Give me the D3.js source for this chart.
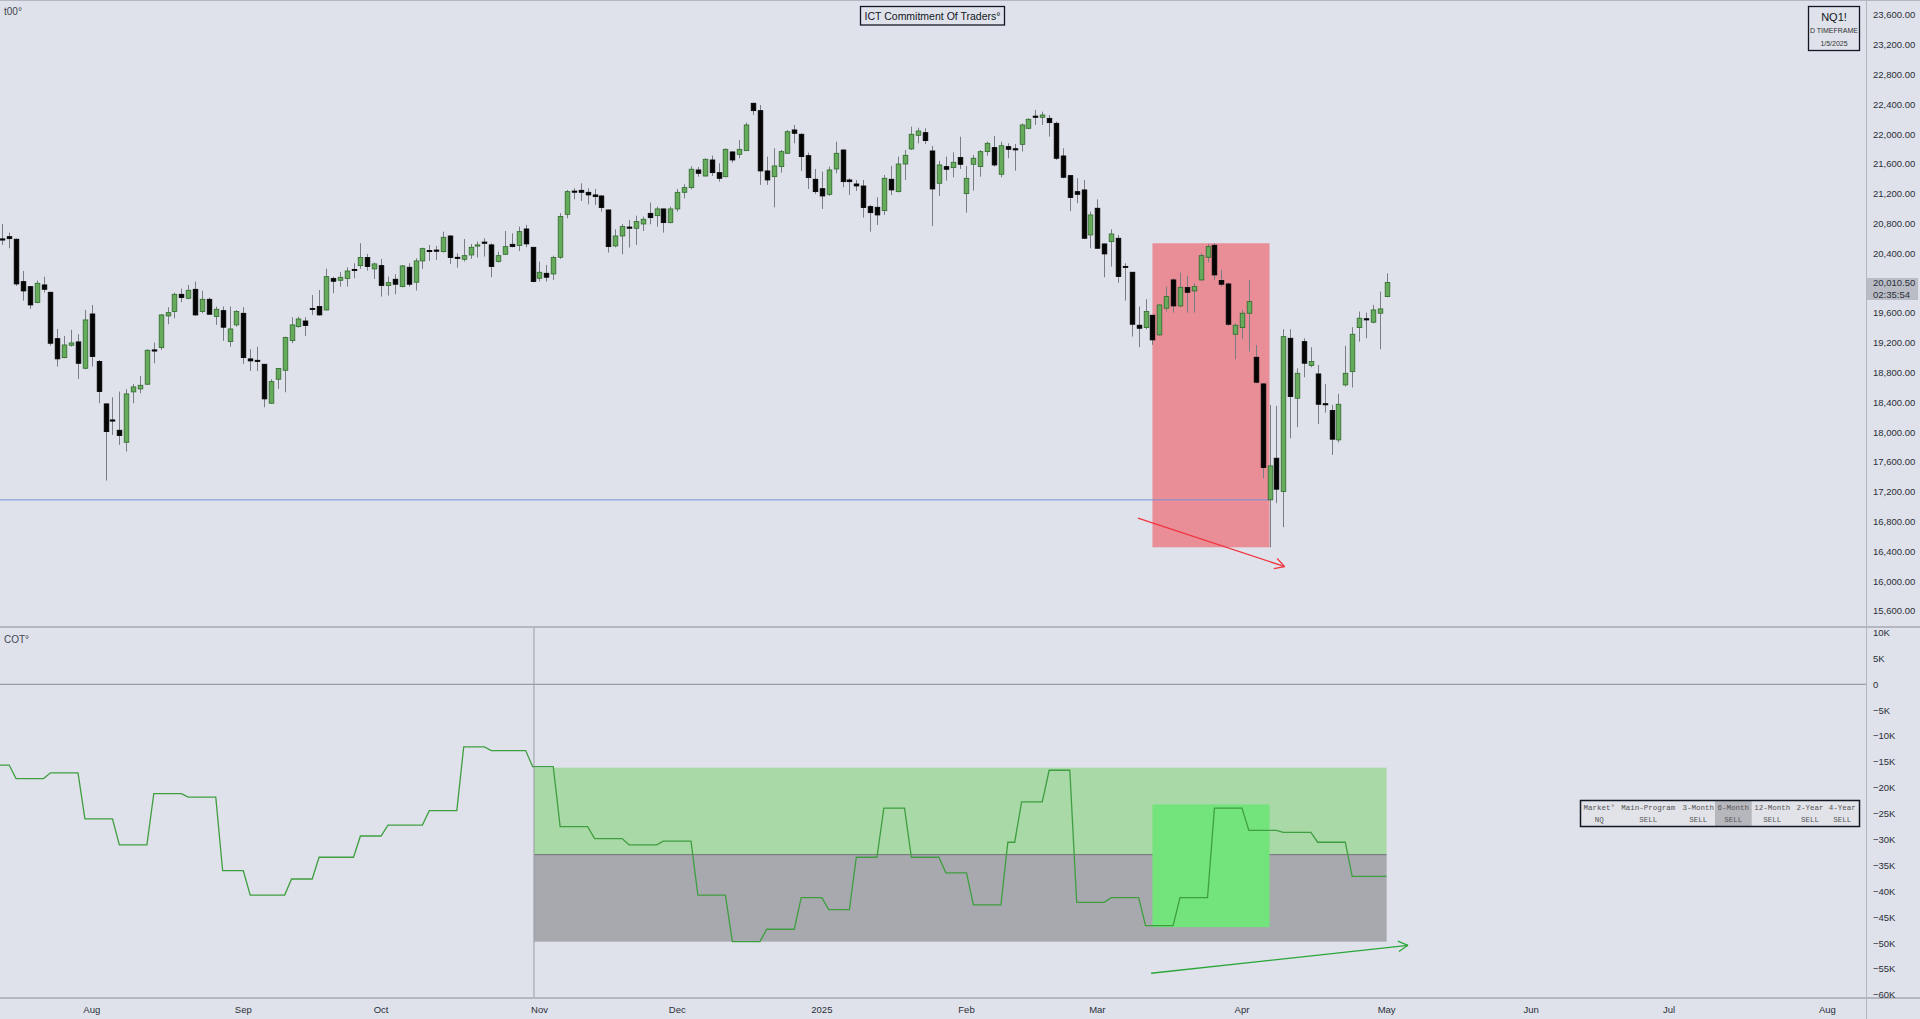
<!DOCTYPE html>
<html><head><meta charset="utf-8">
<script src="https://cdn.jsdelivr.net/npm/d3@7"></script>
<style>
html,body{margin:0;padding:0;background:#dfe2ea;overflow:hidden}
svg{display:block}
</style></head><body>
<svg id="c" width="1920" height="1019"></svg>
<script>
// ---------- DATA ----------
const opens=[20590,20625,20590,20021,19954,19740,19977,19878,19256,19001,
19167,19212,18858,19587,18948,18380,18161,18026,17865,18541,
18581,18644,19100,19136,19561,19619,19851,19798,19918,19619,
19784,19552,19632,19216,19440,19596,18984,18961,18912,18389,
18711,18831,19229,19417,19493,19659,19686,19641,20062,20039,
20062,20182,20236,20344,20192,20236,19968,20053,19954,20214,
20013,20299,20437,20442,20424,20634,20348,20321,20379,20500,
20549,20514,20290,20388,20522,20505,20728,20482,20066,20133,
20124,20348,20925,21234,21247,21220,21185,21171,20983,20500,
20634,20751,20737,20795,20938,20907,20997,20813,20997,21220,
21283,21520,21439,21654,21484,21430,21762,21730,21779,22415,
22316,21507,21430,21565,21744,22057,21999,21712,21395,21269,
21193,21533,21788,21386,21332,21305,21028,21019,20974,21395,
21229,21600,21802,21985,22021,21775,21341,21565,21551,21686,
21202,21596,21565,21766,21820,21462,21833,21802,21864,22079,
22240,22227,22213,22146,21708,21444,21229,21252,20648,21006,
20527,20558,20603,20223,20147,19436,19404,19570,19306,19664,
20044,19695,19941,19896,20044,20348,20509,20035,19990,19315,
19404,19597,19006,18648,17092,17651,17203,19261,18456,19216,
18894,18782,18380,18291,17897,18635,18813,19404,19520,19476,
19597,19820];
const highs=[20795,20679,20600,20164,19960,20035,20088,19885,19386,19292,
19373,19315,19641,19708,18970,18385,18469,18545,18576,18648,
18755,19113,19203,19587,19677,19874,19927,19977,20021,19900,
19807,19686,19686,19686,19641,19677,19113,19149,18915,18711,
18863,19283,19543,19552,19543,19842,19909,20196,20088,20151,
20213,20267,20536,20393,20277,20326,20089,20120,20245,20268,
20335,20478,20514,20500,20692,20640,20402,20594,20527,20558,
20603,20536,20424,20701,20670,20760,20782,20485,20290,20245,
20370,20939,21252,21274,21341,21274,21265,21185,20990,20724,
20795,20849,20907,20894,21082,21028,21000,21028,21265,21328,
21570,21560,21677,21712,21609,21811,21766,21923,22155,22424,
22392,21699,21811,21788,22057,22124,22012,21753,21533,21498,
21565,21900,21797,21408,21386,21386,21050,21153,21453,21574,
21699,21788,22101,22088,22079,21842,21641,21699,21757,21967,
21574,21721,21788,21900,21976,21900,21878,21869,22146,22213,
22325,22303,22258,22169,21811,21453,21408,21386,20961,21126,
20530,20724,20648,20268,20150,19686,19785,19575,19712,19954,
20066,20142,20102,19999,20402,20527,20536,20178,20008,19462,
19641,20044,19172,18657,18366,18353,19382,19382,18858,19261,
19140,18903,18648,18366,18514,19158,19409,19619,19605,19708,
19887,20133];
const lows=[20513,20469,19963,19766,19655,19731,19874,19162,18881,18993,
19149,18715,18845,18881,18389,17351,17964,17830,17740,18389,
18523,18635,18925,19104,19449,19529,19744,19784,19561,19596,
19574,19440,19225,19149,19417,18916,18822,18822,18335,18380,
18581,18536,19194,19404,19292,19574,19565,19632,19865,19954,
19954,20066,20192,20169,20057,19820,19834,19852,19945,19954,
19901,20192,20299,20312,20411,20259,20209,20290,20326,20344,
20357,20080,20277,20379,20482,20433,20482,20013,20022,20022,
20044,20326,20871,21126,21104,21059,21050,20961,20411,20482,
20388,20478,20514,20701,20791,20760,20679,20804,20961,21140,
21260,21430,21430,21439,21363,21421,21618,21677,21775,22258,
21319,21319,21019,21484,21735,21878,21507,21265,21198,20997,
21171,21475,21287,21184,21238,20880,20692,20782,20916,21184,
21220,21386,21788,21878,21869,20768,21171,21377,21422,21533,
20947,21243,21430,21712,21565,21422,21677,21511,21766,22066,
22124,22124,21967,21654,21408,20966,21073,20594,20469,20460,
20080,20223,20008,19767,19284,19140,19382,19172,19297,19619,
19605,19677,19605,19605,20035,20281,20044,19954,19427,18979,
19248,19082,18657,17382,16455,17047,16725,17919,18067,18738,
18872,18111,18264,17696,17861,18613,18599,19216,19261,19462,
19113,19811];
const closes=[20595,20598,19990,19896,19708,19999,19918,19194,18984,19171,
19198,18925,19507,19015,18545,18008,18165,17955,18514,18608,
18630,19100,19105,19574,19605,19851,19807,19905,19574,19784,
19583,19650,19409,19386,19619,19001,18957,18965,18447,18679,
18854,19270,19440,19520,19431,19662,19574,20088,20026,20079,
20164,20185,20344,20223,20259,19968,20008,19986,20232,19986,
20299,20464,20440,20445,20616,20344,20335,20370,20482,20514,
20552,20223,20370,20491,20491,20692,20527,20022,20147,20080,
20344,20894,21229,21237,21220,21185,21162,21015,20491,20634,
20760,20754,20827,20858,20880,20997,20813,20997,21220,21283,
21530,21475,21663,21484,21408,21797,21654,21797,22124,22316,
21507,21386,21574,21766,22034,22012,21699,21417,21229,21171,
21520,21744,21363,21363,21305,21015,20947,20916,21408,21252,
21600,21717,21999,22043,21914,21265,21587,21529,21623,21596,
21408,21677,21766,21878,21587,21846,21797,21805,22124,22200,
22243,22258,22155,21677,21422,21149,21193,20603,20916,20469,
20393,20661,20089,20226,19449,19395,19619,19239,19708,19820,
19695,19945,19878,19954,20370,20491,20111,19986,19449,19436,
19597,19753,18671,17526,17548,17235,19283,18478,18791,18926,
18948,18375,18383,17906,18375,18791,19315,19530,19523,19641,
19655,20010.5];

// month tick labels (bar index of first trading day of month)
const monthLabels=["Aug","Sep","Oct","Nov","Dec","2025","Feb","Mar","Apr","May","Jun","Jul","Aug"];
const monthIdx=[13,35,55,78,98,119,140,159,180,201,222,242,265];
const priceTicks=[15600,16000,16400,16800,17200,17600,18000,18400,18800,19200,19600,20000,20400,20800,21200,21600,22000,22400,22800,23200,23600];
const cotTicks=[10000,5000,0,-5000,-10000,-15000,-20000,-25000,-30000,-35000,-40000,-45000,-50000,-55000,-60000];

// COT net positions (weekly levels) and bar index at which each level is reached
const cotIdx=[0,2,7,12,17,22,27,32,36,42,46,52,56,62,67,71,77,81,86,91,96,101,106,111,116,120,124,128,132,137,141,146,148,152,156,161,166,171,176,181,186,191,196];
const cotVals=[-15600,-18200,-17100,-26000,-31000,-21100,-21800,-36000,-40700,-37600,-33400,-29300,-27200,-24400,-12100,-12800,-15900,-27500,-29800,-31000,-30300,-40700,-49700,-47300,-41200,-43500,-33400,-23900,-33400,-36400,-42600,-30500,-22700,-16600,-42100,-41200,-46600,-41200,-23900,-28200,-28600,-30500,-37100];
const cotLastIdx=201;

// annotations
const redBox={i0:167,i1:184,top:20536,bottom:16455};
const blueLine={i0:-1,i1:184,price:17092};
const redArrow={i0:164.9,p0:16846,i1:186.2,p1:16196};
const cotZone={i0:77.2,i1:201,top:-16100,mid:-32900,bottom:-49700};
const cotHi={i0:167,i1:184,top:-23200,bottom:-46900};
const greenArrow={i0:166.8,v0:-55800,i1:204.1,v1:-50400};
const lastPrice="20,010.50", countdown="02:35:54";
const tableHead=["Market°","Main-Program","3-Month","6-Month","12-Month","2-Year","4-Year"];
const tableRow=["NQ","SELL","SELL","SELL","SELL","SELL","SELL"];

// ---------- LAYOUT ----------
const axisX=1866.5, sepY=627, timeY=998;
const svg=d3.select("#c");
const x=d3.scaleLinear().domain([13,242]).range([91.8,1669]);
const yP=d3.scaleLinear().domain([15600,23600]).range([611,15]);
const yC=d3.scaleLinear().domain([-60000,10000]).range([995,632.5]);
const font="'Liberation Sans', Arial, sans-serif";
const txt="#2a2e39";

svg.append("rect").attr("width",1920).attr("height",1019).attr("fill","#dfe2ea");
const defs=svg.append("defs");
defs.append("clipPath").attr("id","cp").append("rect").attr("x",0).attr("y",0).attr("width",axisX).attr("height",sepY);
defs.append("clipPath").attr("id","cc").append("rect").attr("x",0).attr("y",sepY).attr("width",axisX).attr("height",timeY-sepY);

// ----- price pane -----
const gp=svg.append("g").attr("clip-path","url(#cp)");
gp.append("rect").attr("x",x(redBox.i0)).attr("y",yP(redBox.top))
  .attr("width",x(redBox.i1)-x(redBox.i0)).attr("height",yP(redBox.bottom)-yP(redBox.top))
  .attr("fill","#e98d97");
gp.append("line").attr("x1",x(blueLine.i0)).attr("x2",x(blueLine.i1))
  .attr("y1",yP(blueLine.price)).attr("y2",yP(blueLine.price))
  .attr("stroke","#7393d9").attr("stroke-width",1);

const bars=d3.range(opens.length).map(i=>({i,o:opens[i],h:highs[i],l:lows[i],c:closes[i]}));
const bw=4.6;
gp.append("g").selectAll("line").data(bars).join("line")
  .attr("x1",d=>Math.round(x(d.i))+0.5).attr("x2",d=>Math.round(x(d.i))+0.5)
  .attr("y1",d=>yP(d.h)).attr("y2",d=>yP(d.l))
  .attr("stroke","#7a7d85").attr("stroke-width",1);
gp.append("g").selectAll("rect").data(bars).join("rect")
  .attr("x",d=>Math.round(x(d.i))+0.5-bw/2)
  .attr("y",d=>yP(Math.max(d.o,d.c)))
  .attr("width",bw)
  .attr("height",d=>Math.max(1.2,Math.abs(yP(d.o)-yP(d.c))))
  .attr("fill",d=>d.c>d.o+5?"#66ab5c":"#050505")
  .attr("stroke",d=>d.c>d.o+5?"#2f6a2b":"#000")
  .attr("stroke-width",0.8);

function arrow(g,x0,y0,x1,y1,color){
  g.append("line").attr("x1",x0).attr("y1",y0).attr("x2",x1).attr("y2",y1)
    .attr("stroke",color).attr("stroke-width",1.3);
  const a=Math.atan2(y1-y0,x1-x0), L=11, s=0.5;
  [a+Math.PI-s,a+Math.PI+s].forEach(b=>{
    g.append("line").attr("x1",x1).attr("y1",y1)
      .attr("x2",x1+L*Math.cos(b)).attr("y2",y1+L*Math.sin(b))
      .attr("stroke",color).attr("stroke-width",1.3);
  });
}
arrow(gp,x(redArrow.i0),yP(redArrow.p0),x(redArrow.i1),yP(redArrow.p1),"#f0343f");

// ----- COT pane -----
const gc=svg.append("g").attr("clip-path","url(#cc)");
gc.append("rect").attr("x",x(cotZone.i0)).attr("y",yC(cotZone.top))
  .attr("width",x(cotZone.i1)-x(cotZone.i0)).attr("height",yC(cotZone.mid)-yC(cotZone.top))
  .attr("fill","#a9d9a6");
gc.append("rect").attr("x",x(cotZone.i0)).attr("y",yC(cotZone.mid))
  .attr("width",x(cotZone.i1)-x(cotZone.i0)).attr("height",yC(cotZone.bottom)-yC(cotZone.mid))
  .attr("fill","#a8a9ae");
gc.append("line").attr("x1",x(cotZone.i0)).attr("x2",x(cotZone.i1))
  .attr("y1",yC(cotZone.mid)).attr("y2",yC(cotZone.mid)).attr("stroke","#6f7177").attr("stroke-width",1);
gc.append("rect").attr("x",x(cotHi.i0)).attr("y",yC(cotHi.top))
  .attr("width",x(cotHi.i1)-x(cotHi.i0)).attr("height",yC(cotHi.bottom)-yC(cotHi.top))
  .attr("fill","#73e47c");
gc.append("line").attr("x1",x(cotZone.i0)).attr("x2",x(cotZone.i0))
  .attr("y1",sepY).attr("y2",timeY).attr("stroke","#9a9da6").attr("stroke-width",1);
gc.append("line").attr("x1",0).attr("x2",axisX).attr("y1",yC(0)).attr("y2",yC(0))
  .attr("stroke","#9a9da6").attr("stroke-width",1.2);

// expand weekly levels to per-bar points (step held until next report)
const cotPts=[];
for(let i=0;i<=cotLastIdx;i++){
  let k=0; while(k+1<cotIdx.length && cotIdx[k+1]<=i) k++;
  cotPts.push([i,cotVals[k]]);
}
cotPts.unshift([-0.5,cotVals[0]]);
gc.append("path").datum(cotPts)
  .attr("d",d3.line().x(d=>x(d[0])).y(d=>yC(d[1])))
  .attr("fill","none").attr("stroke","#3f9f40").attr("stroke-width",1.3);
arrow(gc,x(greenArrow.i0),yC(greenArrow.v0),x(greenArrow.i1),yC(greenArrow.v1),"#2aa63a");

// ----- frame lines -----
const lc="#b4b7c0";
svg.append("line").attr("x1",0).attr("x2",1920).attr("y1",0.5).attr("y2",0.5).attr("stroke",lc);
svg.append("line").attr("x1",axisX).attr("x2",axisX).attr("y1",0).attr("y2",1019).attr("stroke",lc);
svg.append("line").attr("x1",0).attr("x2",1920).attr("y1",sepY).attr("y2",sepY).attr("stroke",lc).attr("stroke-width",2);
svg.append("line").attr("x1",0).attr("x2",1920).attr("y1",timeY).attr("y2",timeY).attr("stroke",lc).attr("stroke-width",2);

// ----- axes labels -----
const fmtP=d3.format(",.2f");
svg.append("g").selectAll("text").data(priceTicks).join("text")
  .attr("x",1873).attr("y",d=>yP(d)).attr("dy","0.35em")
  .attr("font-family",font).attr("font-size",9.5).attr("fill",txt).text(d=>fmtP(d));
const fmtC=v=>v===0?"0":(v<0?"\u2212":"")+Math.abs(v/1000)+"K";
svg.append("g").selectAll("text").data(cotTicks).join("text")
  .attr("x",1873).attr("y",d=>yC(d)).attr("dy","0.35em")
  .attr("font-family",font).attr("font-size",9.5).attr("fill",txt).text(d=>fmtC(d));
svg.append("g").selectAll("text").data(monthLabels).join("text")
  .attr("x",(d,i)=>x(monthIdx[i])).attr("y",1010).attr("dy","0.35em").attr("text-anchor","middle")
  .attr("font-family",font).attr("font-size",9.5).attr("fill",txt).text(d=>d);

// last price label
const lp=svg.append("g");
lp.append("rect").attr("x",axisX+0.5).attr("y",278).attr("width",51).attr("height",22).attr("fill","#b9bcc4");
lp.append("text").attr("x",1873).attr("y",283).attr("dy","0.35em").attr("font-family",font).attr("font-size",9.5).attr("fill",txt).text(lastPrice);
lp.append("text").attr("x",1873).attr("y",294.5).attr("dy","0.35em").attr("font-family",font).attr("font-size",9.5).attr("fill",txt).text(countdown);

// pane titles
svg.append("text").attr("x",4).attr("y",11).attr("dy","0.35em").attr("font-family",font).attr("font-size",10).attr("fill","#434651").text("t00°");
svg.append("text").attr("x",4).attr("y",639).attr("dy","0.35em").attr("font-family",font).attr("font-size",10).attr("fill","#434651").text("COT°");

// title box
svg.append("rect").attr("x",860.5).attr("y",6.5).attr("width",144).attr("height",18.5).attr("fill","none").attr("stroke","#131722").attr("stroke-width",1.3);
svg.append("text").attr("x",932.5).attr("y",16).attr("dy","0.35em").attr("text-anchor","middle").attr("font-family",font).attr("font-size",10.5).attr("fill","#131722").text("ICT Commitment Of Traders°");

// symbol box
svg.append("rect").attr("x",1808.5).attr("y",6.5).attr("width",51).attr("height",44).attr("fill","none").attr("stroke","#131722").attr("stroke-width",1.3);
svg.append("text").attr("x",1834).attr("y",17.5).attr("dy","0.35em").attr("text-anchor","middle").attr("font-family",font).attr("font-size",11).attr("fill","#131722").text("NQ1!");
svg.append("text").attr("x",1834).attr("y",31).attr("dy","0.35em").attr("text-anchor","middle").attr("font-family",font).attr("font-size",7).attr("fill","#333").text("D TIMEFRAME");
svg.append("text").attr("x",1834).attr("y",43.5).attr("dy","0.35em").attr("text-anchor","middle").attr("font-family",font).attr("font-size",7).attr("fill","#333").text("1/5/2025");

// table
const colX=[1599.3,1648.3,1698.3,1733.3,1772.3,1810,1842.3];
const tb=svg.append("g");
tb.append("rect").attr("x",1580.5).attr("y",800.5).attr("width",279).attr("height",26).attr("fill","#e1e3e9");
tb.append("rect").attr("x",1715).attr("y",801).attr("width",36.7).attr("height",25).attr("fill","#b5b7bd");
tb.append("rect").attr("x",1580.5).attr("y",800.5).attr("width",279).attr("height",26).attr("fill","none").attr("stroke","#131722").attr("stroke-width",1.5);
const mono="'Liberation Mono', 'DejaVu Sans Mono', monospace";
tb.selectAll("text.h").data(tableHead).join("text").attr("class","h")
  .attr("x",(d,i)=>colX[i]).attr("y",807).attr("dy","0.35em").attr("text-anchor","middle")
  .attr("font-family",mono).attr("font-size",7.5).attr("fill","#555").text(d=>d);
tb.selectAll("text.r").data(tableRow).join("text").attr("class","r")
  .attr("x",(d,i)=>colX[i]).attr("y",819.5).attr("dy","0.35em").attr("text-anchor","middle")
  .attr("font-family",mono).attr("font-size",7.5).attr("fill","#555").text(d=>d);
</script>
</body></html>
